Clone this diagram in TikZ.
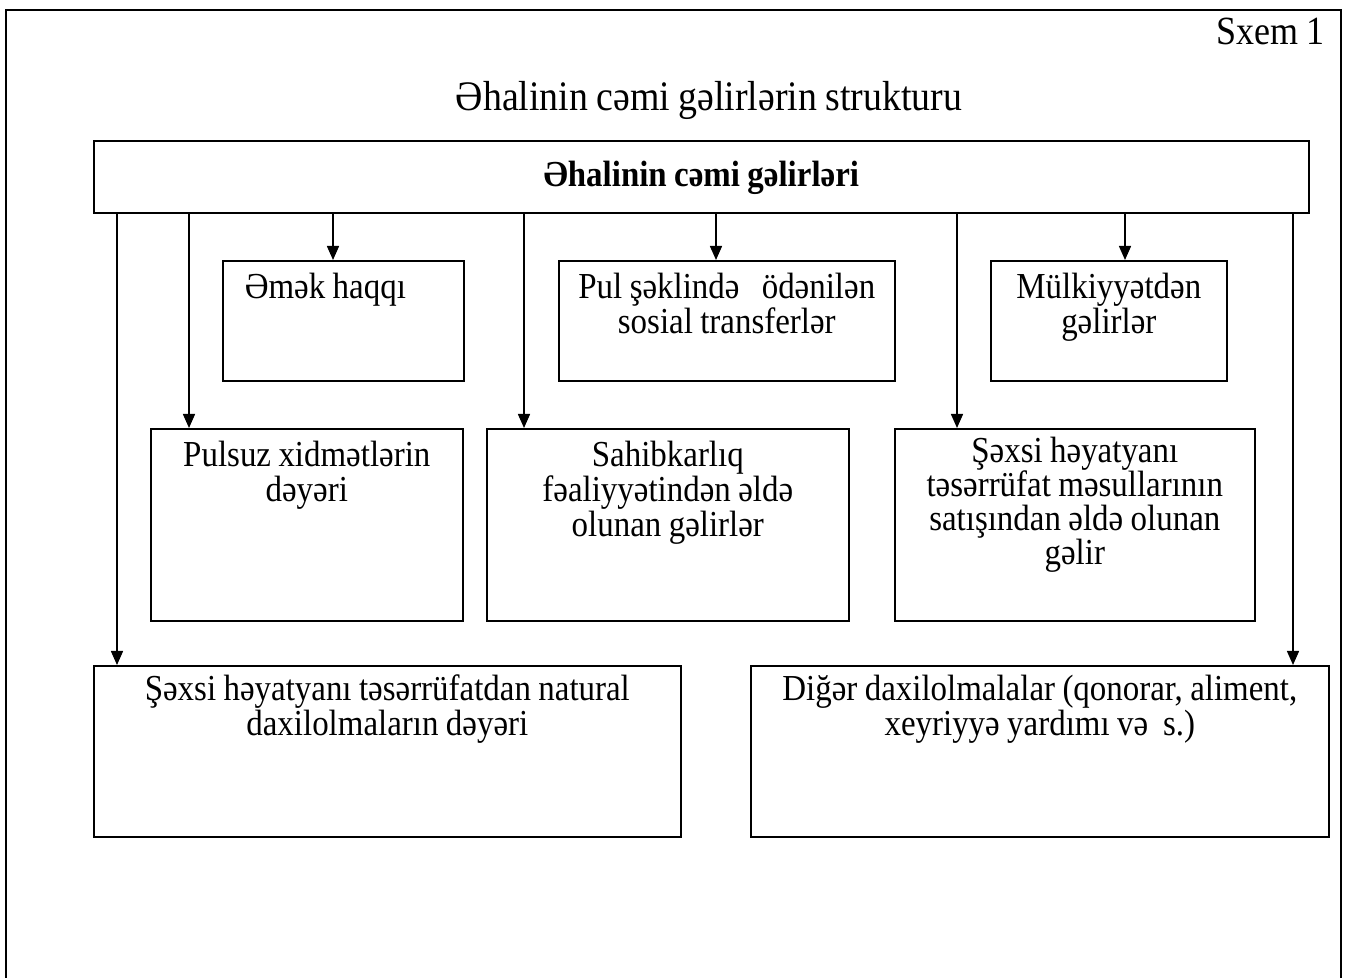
\documentclass[tikz,border=0pt]{standalone}
\usepackage{fontspec}
\setmainfont[FakeStretch=0.9, WordSpace=0.9]{Liberation Serif}
\usetikzlibrary{arrows.meta}
\newcommand{\bodyfont}{\fontsize{18.3}{17.5}\selectfont}
\tikzset{
  gbox/.style={draw=black, line width=0.8pt, inner sep=0pt, align=flush center, font=\bodyfont, text height=19pt},
  farr/.style={-{Triangle[width=6pt,length=7pt]}, line width=0.75pt}
}

\begin{document}
\begin{tikzpicture}[x=0.5pt,y=-0.5pt]
\useasboundingbox (0,0) rectangle (1345,978);
\draw[line width=1.2pt] (6,1000) -- (6,10) -- (1341,10) -- (1341,1000);
\node[anchor=base east, inner sep=0pt, font=\fontsize{20}{22}\selectfont] (sxem) at (1325,45) {Sxem 1};
\node[anchor=base, inner sep=0pt, font=\fontsize{21}{24}\selectfont] (title) at (709,111) {Əhalinin cəmi gəlirlərin strukturu};
\node[gbox, anchor=north west, text width=607.5pt, text height=23pt, text depth=13pt, font=\bodyfont\bfseries] (top) at (93,140) {Əhalinin cəmi gəlirləri};
% first row
\node[gbox, anchor=north west, align=flush left, inner xsep=11pt, text width=98.5pt, text depth=41pt] (emek) at (222,260) {Əmək haqqı};
\node[gbox, anchor=north west, text width=168pt, text depth=41pt] (pul) at (558,260) {Pul şəklində \ \ ödənilən\\sosial transferlər};
\node[gbox, anchor=north west, text width=118pt, text depth=41pt] (mulk) at (990,260) {Mülkiyyətdən\\gəlirlər};
% second row
\node[gbox, anchor=north west, text width=156pt, text depth=77pt] (pulsuz) at (150,428) {Pulsuz xidmətlərin\\dəyəri};
\node[gbox, anchor=north west, text width=181pt, text depth=77pt] (sahib) at (486,428) {Sahibkarlıq\\fəaliyyətindən əldə\\olunan gəlirlər};
\node[gbox, anchor=north west, text width=180pt, text height=17pt, text depth=79pt, font=\fontsize{18.3}{17}\selectfont] (sexsi) at (894,428) {Şəxsi həyatyanı\\təsərrüfat məsullarının\\satışından əldə olunan\\gəlir};
% third row
\node[gbox, anchor=north west, text width=293.5pt, text height=17.5pt, text depth=68pt] (natural) at (93,665) {Şəxsi həyatyanı təsərrüfatdan natural\\daxilolmaların dəyəri};
\node[gbox, anchor=north west, text width=289pt, text height=17.5pt, text depth=68pt] (diger) at (750,665) {Diğər daxilolmalalar (qonorar, aliment,\\xeyriyyə yardımı və \ s.)};
\foreach \b/\dx in {natural/12pt, pulsuz/19.5pt, emek/55.5pt, sahib/19pt, pul/79pt, sexsi/31.5pt, mulk/67.5pt, diger/271.5pt}
  \draw[farr] ([xshift=\dx]\b.north west |- top.south) -- ([xshift=\dx]\b.north west);
\end{tikzpicture}
\end{document}
